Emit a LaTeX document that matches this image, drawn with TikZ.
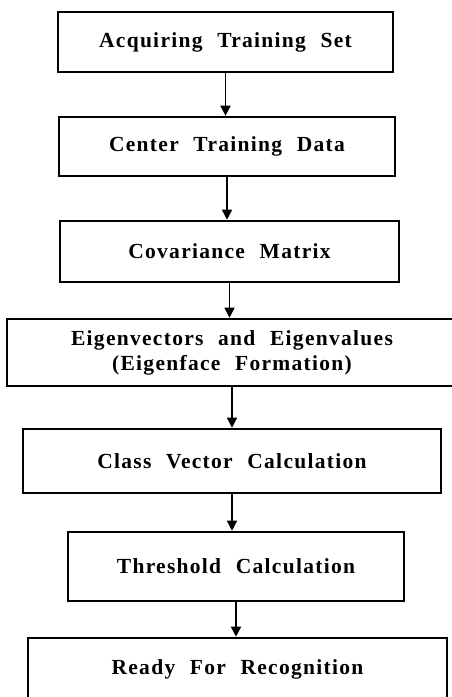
\documentclass[tikz,border=0pt]{standalone}
\usepackage{fontspec}
\setmainfont{Liberation Serif}[LetterSpace=6,WordSpace=2.2]
\usepackage{tikz}
\usetikzlibrary{arrows.meta}

\begin{document}
\begin{tikzpicture}[x=1pt, y=-1pt,
        stage/.style={draw, line width=2.6pt, inner sep=0pt, align=center,
            font=\fontsize{21.5}{25}\selectfont\bfseries},
        flow/.style={-{Triangle[length=10pt, width=10pt]}, line width=1.5pt}]
    \useasboundingbox (0,0) rectangle (452,697);
    \clip (0,0) rectangle (452,697);

    \foreach \n/\cx/\cy/\w/\h/\t in {
            1/225.5/42/335/60/{Acquiring Training Set},
            2/227/146.5/336/59/{Center Training Data},
            3/229.5/251.5/339/61/{Covariance Matrix},
            4/232/352.5/450/67/{Eigenvectors and Eigenvalues\\(Eigenface Formation)},
            5/232/461/418/64/{Class Vector Calculation},
            6/236/566.5/336/69/{Threshold Calculation},
            7/237.5/669/419/62/{Ready For Recognition}} {
        \node[stage, minimum width=\w pt, minimum height=\h pt] (s\n) at (\cx,\cy) {\t};
    }

    \foreach \i [evaluate=\i as \j using int(\i+1)] in {1,...,6} {
        \draw[flow] (s\i.south) -- (s\i.south |- s\j.north);
    }
\end{tikzpicture}
\end{document}
